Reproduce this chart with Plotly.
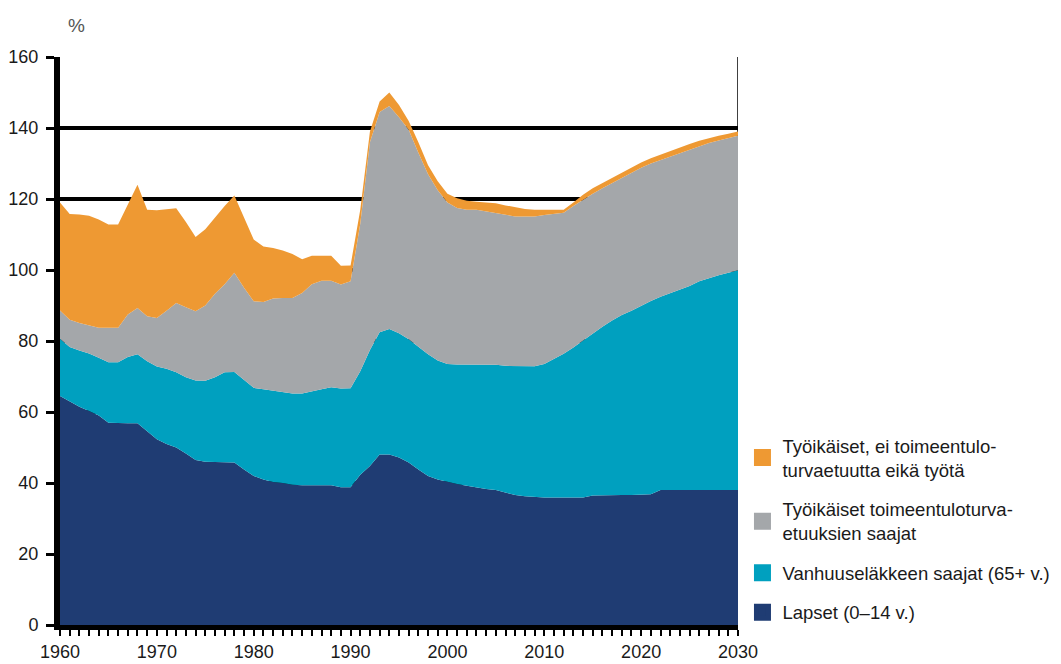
import plotly.graph_objects as go

# ---- data (cumulative upper edges of the stacked areas, %) ----
years = list(range(1960, 2031))

lapset_top = [
    64.5, 63.0, 61.5, 60.3, 59.0, 57.0, 56.8, 56.8, 56.8, 54.5,
    52.3, 51.0, 50.0, 48.3, 46.5, 46.0, 46.0, 46.0, 45.8, 43.8,
    42.0, 41.0, 40.3, 40.0, 39.5, 39.4, 39.4, 39.4, 39.4, 38.8,
    38.8, 42.3, 44.8, 48.0, 48.0, 47.2, 45.8, 43.8, 42.0, 41.0,
    40.3, 39.7, 39.2, 38.7, 38.3, 38.0, 37.2, 36.6, 36.3, 36.0,
    35.9, 35.9, 35.9, 35.9, 35.9, 36.5, 36.6, 36.6, 36.6, 36.6,
    36.6, 36.8, 38.0, 38.0, 38.0, 38.0, 38.0, 38.0, 38.0, 38.0,
    38.0,
]

vanhuus_top = [
    80.6, 78.3, 77.3, 76.5, 75.3, 74.0, 74.0, 75.5, 76.3, 74.3,
    72.8, 72.2, 71.2, 69.8, 68.9, 68.8, 69.8, 71.2, 71.3, 69.0,
    66.8, 66.4, 66.0, 65.7, 65.2, 65.2, 65.9, 66.4, 67.0, 66.6,
    66.7, 71.5, 77.5, 82.5, 83.4, 82.2, 80.5, 78.3, 76.3, 74.5,
    73.5, 73.4, 73.4, 73.4, 73.4, 73.3, 73.0, 72.9, 72.9, 72.9,
    73.5, 75.0, 76.4, 78.2, 80.2, 82.0, 84.0, 85.8, 87.3, 88.5,
    90.0, 91.3, 92.5, 93.5, 94.5, 95.5, 96.8, 97.7, 98.5, 99.2,
    99.9,
]

etuus_top = [
    88.6, 86.0, 85.1, 84.3, 83.7, 83.7, 83.7, 87.5, 89.3, 87.0,
    86.5, 88.5, 90.7, 89.5, 88.4, 90.0, 93.3, 96.0, 99.2, 95.0,
    91.2, 91.0, 92.0, 92.1, 92.1, 93.5, 96.0, 97.0, 97.0, 95.9,
    96.8, 113.0, 136.0, 144.5, 146.2, 143.0, 139.5, 133.0, 127.0, 122.5,
    119.0, 117.5, 117.0, 117.0, 116.5, 116.0, 115.5, 115.1, 115.1, 115.1,
    115.5, 115.8, 116.1, 118.0, 119.8, 121.5, 123.0, 124.5, 126.0, 127.5,
    128.8, 130.0, 131.0, 132.0, 133.0, 134.0, 135.0, 135.8, 136.5, 137.2,
    137.8,
]

muut_top = [
    119.0, 115.8, 115.6, 115.3, 114.2, 112.8, 112.8, 118.5, 124.0, 117.0,
    116.8, 117.1, 117.4, 113.5, 109.3, 111.5, 114.8, 118.0, 121.0, 115.0,
    108.6, 106.6, 106.2, 105.5, 104.5, 103.0, 104.0, 104.0, 104.0, 101.2,
    101.3, 117.0, 139.0, 147.5, 150.0, 146.5, 142.0, 136.0, 129.5, 125.0,
    121.5, 120.2, 119.5, 119.2, 119.0, 118.8, 118.2, 117.7, 117.2, 117.0,
    117.0, 117.0, 117.0, 119.0, 121.2, 123.0, 124.5, 126.0, 127.5, 129.0,
    130.3, 131.5, 132.5, 133.7, 134.7, 135.5, 136.4, 137.2, 137.8, 138.4,
    139.0,
]

series_names = [
    "Työikäiset, ei toimeentulo-<br>turvaetuutta eikä työtä",
    "Työikäiset toimeentuloturva-<br>etuuksien saajat",
    "Vanhuuseläkkeen saajat (65+ v.)",
    "Lapset (0–14 v.)",
]
x_ticks = [1960, 1970, 1980, 1990, 2000, 2010, 2020, 2030]
y_ticks = [0, 20, 40, 60, 80, 100, 120, 140, 160]
y_unit = "%"

# ---- styling ----
ORANGE = "#EE9933"
GRAY = "#A4A7AA"
TEAL = "#00A0BF"
NAVY = "#1F3C73"
FONT = "Liberation Sans, Arial, sans-serif"

fig = go.Figure()

stack = [
    (lapset_top, NAVY, "tozeroy"),
    (vanhuus_top, TEAL, "tonexty"),
    (etuus_top, GRAY, "tonexty"),
    (muut_top, ORANGE, "tonexty"),
]
for top, col, fill in stack:
    fig.add_trace(go.Scatter(
        x=years, y=top, mode="lines", line=dict(width=0, color=col),
        fill=fill, fillcolor=col, showlegend=False, hoverinfo="skip",
    ))

# legend entries (square swatches)
for name, col in zip(series_names, [ORANGE, GRAY, TEAL, NAVY]):
    fig.add_trace(go.Bar(
        x=[None], y=[None], name=name, legendgroup=name,
        marker=dict(color=col, line=dict(color=col, width=5)),
    ))

# the page body adds an 8 px offset, so the figure is 8 px smaller than the window
fig.update_layout(
    width=1053, height=656,
    margin=dict(l=52, r=323, t=49, b=39, autoexpand=False),
    plot_bgcolor="white", paper_bgcolor="white",
    font=dict(family=FONT, size=18, color="#1a1a1a"),
    xaxis=dict(
        type="linear", range=[1960, 2030], tickvals=x_ticks,
        showgrid=False, zeroline=False, automargin=False,
        showline=True, linecolor="black", linewidth=5,
        ticks="outside", ticklen=6, tickwidth=2, tickcolor="black",
        minor=dict(tick0=1960, dtick=1, ticks="outside", ticklen=6,
                   tickwidth=2, tickcolor="black", showgrid=False),
        tickfont=dict(family=FONT, size=18, color="#1a1a1a"),
    ),
    yaxis=dict(
        range=[0, 160], tickvals=y_ticks, automargin=False,
        showgrid=True, gridcolor="black", gridwidth=4, zeroline=False,
        showline=True, linecolor="black", linewidth=6,
        ticks="outside", ticklen=8, tickwidth=3, tickcolor="black",
        tickfont=dict(family=FONT, size=18, color="#1a1a1a"),
        ticklabelstandoff=4,
    ),
    legend=dict(
        xref="container", yref="container",
        x=0.6975, y=0.3613, xanchor="left", yanchor="top",
        font=dict(family=FONT, size=18.5, color="#1a1a1a"),
        tracegroupgap=12.5, bgcolor="rgba(0,0,0,0)", traceorder="grouped",
    ),
    annotations=[dict(
        text=y_unit, xref="paper", yref="paper", x=0.009, y=1.077,
        showarrow=False, font=dict(family=FONT, size=19, color="#555555"),
    )],
    shapes=[dict(
        type="line", xref="x", yref="y", x0=2030, x1=2030, y0=0, y1=160,
        line=dict(color="black", width=1.5), layer="below",
    )],
    showlegend=True,
)

fig.write_html("out.html")
